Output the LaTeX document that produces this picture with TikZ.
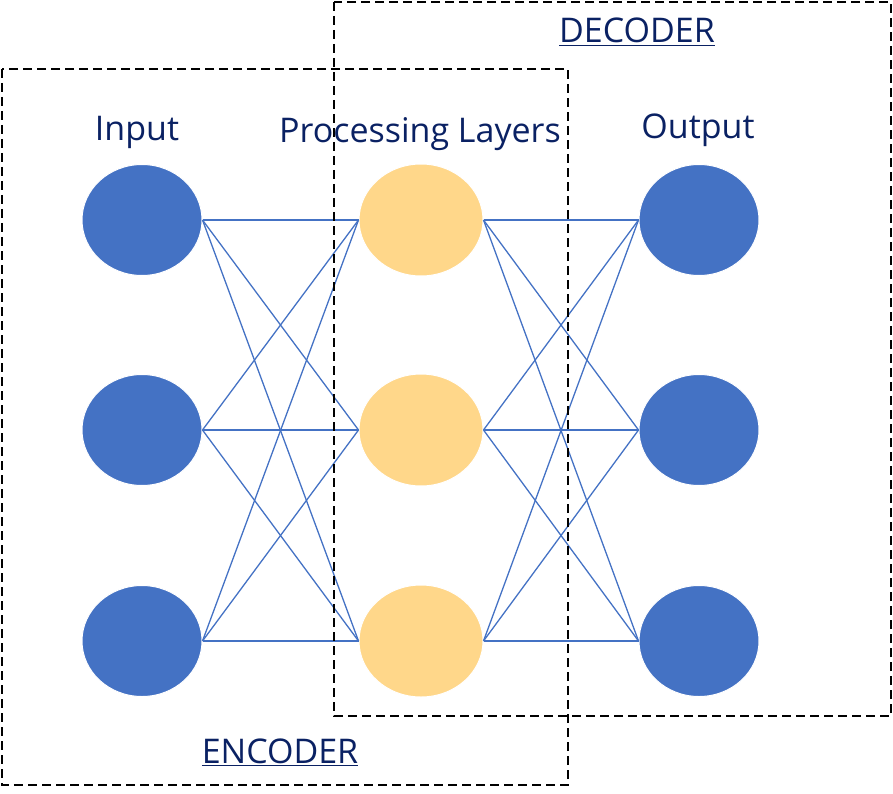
\documentclass[tikz,border=0pt]{standalone}
\usepackage{fontspec}
\setmainfont{Open Sans}
\definecolor{navy}{RGB}{10,33,99}
\definecolor{nblue}{RGB}{68,114,196}
\definecolor{nyellow}{RGB}{255,215,138}
\tikzset{
  unit/.style={ellipse, minimum width=120pt, minimum height=111pt, inner sep=0pt, draw=white, line width=1pt},
  inunit/.style={unit, fill=nblue},
  midunit/.style={unit, fill=nyellow, minimum width=124pt, minimum height=112pt},
  link/.style={nblue, line width=1.3pt},
  part/.style={dash pattern=on 9pt off 5pt, line width=2.5pt},
  heading/.style={text=navy, font=\fontsize{34}{40}\selectfont, inner sep=0pt, anchor=base}
}
\usetikzlibrary{shapes.geometric}
\begin{document}
\begin{tikzpicture}[x=1pt,y=-1pt]
\useasboundingbox (0,0) rectangle (893,794);

% layers
\foreach \i/\y in {1/220,2/430,3/641}{
  \node[inunit]  (in\i)  at (142,\y) {};
  \node[midunit] (mid\i) at (421,\y) {};
  \node[inunit]  (out\i) at (699,\y) {};
}

% links
\foreach \i in {1,2,3}{
  \foreach \j in {1,2,3}{
    \draw[link] (in\i.east) -- (mid\j.west);
    \draw[link] (mid\i.east) -- (out\j.west);
  }
}

% encoder / decoder
\draw[part] (2,69) rectangle (568,785);
\draw[part] (334,2) rectangle (891,716);

\node[heading] (lin)  at (137,141) {Input};
\node[heading] (lmid) at (420,143) {Processing Layers};
\node[heading] (lout) at (698,139) {Output};
\node[heading] (ldec) at (637,43) {\underline{DECODER}};
\node[heading] (lenc) at (280,763) {\underline{ENCODER}};
\end{tikzpicture}
\end{document}
